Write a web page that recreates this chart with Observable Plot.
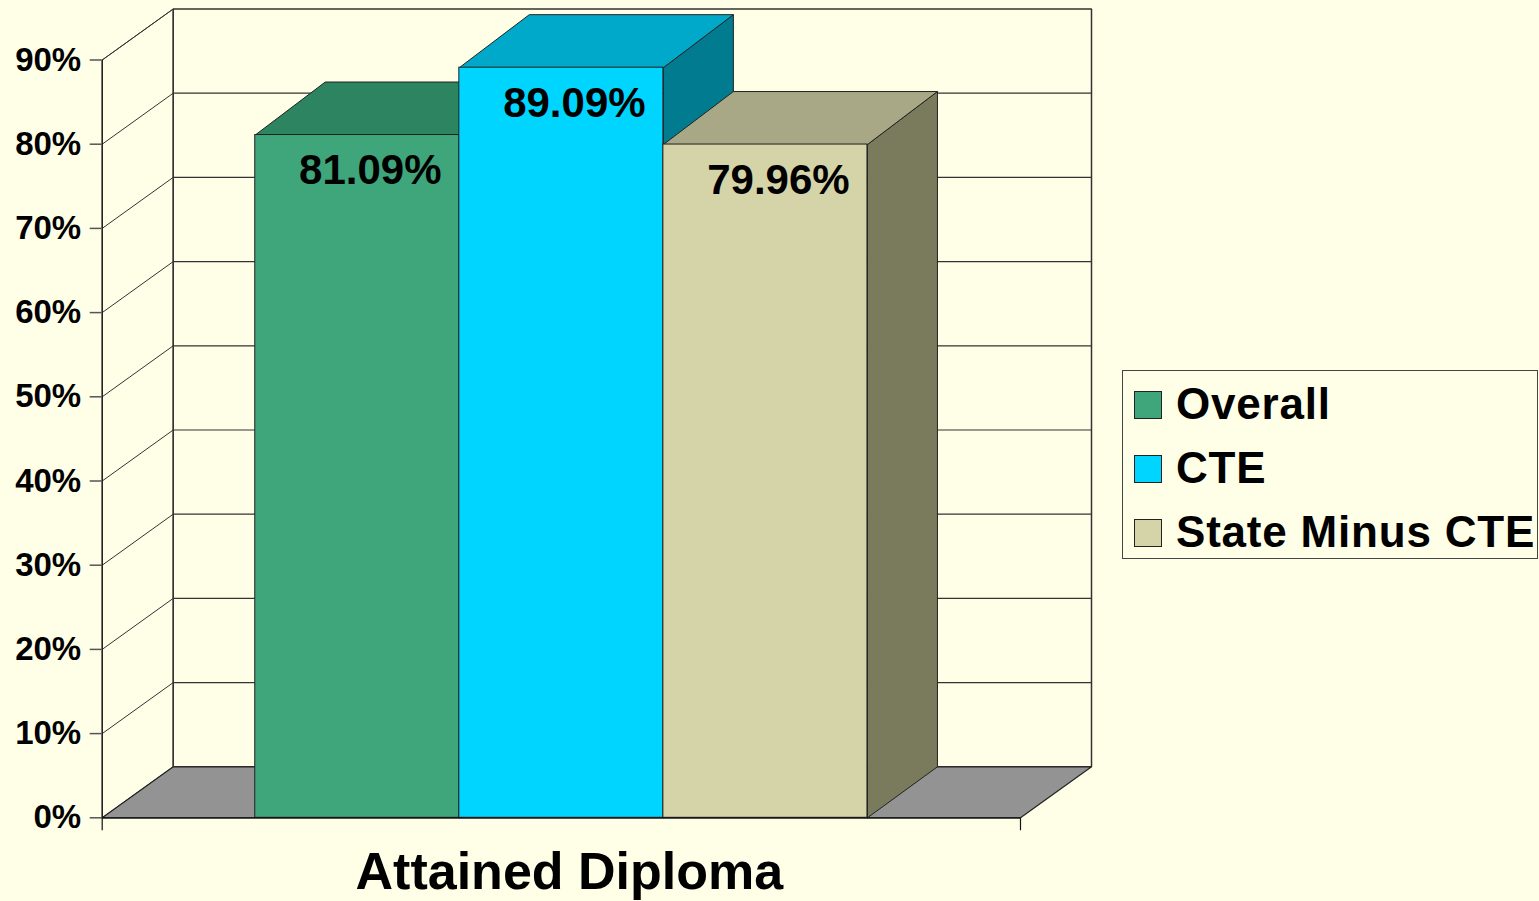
<!DOCTYPE html>
<html><head><meta charset="utf-8">
<script src="https://cdn.jsdelivr.net/npm/d3@7"></script>
<script src="https://cdn.jsdelivr.net/npm/@observablehq/plot@0.6"></script>
<style>
html,body{margin:0;padding:0;background:#FFFFE8;}
#wrap{position:relative;width:1539px;height:901px;font-family:"Liberation Sans",Arial,sans-serif;overflow:hidden;}
#legend{position:absolute;left:1122px;top:370px;width:416px;height:189px;border:1.5px solid #444;box-sizing:border-box;background:#FFFFE8;}
.item{position:absolute;left:0;height:0;}
.sw{position:absolute;left:11px;width:26px;height:26px;top:-14px;border:1px solid #222;}
.lab{position:absolute;left:53px;top:-27px;font-size:44px;font-weight:bold;letter-spacing:0.8px;line-height:52px;white-space:nowrap;color:#000;}
</style></head><body><div id="wrap"></div>
<script>
// ---- data ----
const categories = ["Attained Diploma"];
const series = ["Overall", "CTE", "State Minus CTE"];
const values = [81.09, 89.09, 79.96];
const valueLabels = ["81.09%", "89.09%", "79.96%"];
const yTicks = [0, 10, 20, 30, 40, 50, 60, 70, 80, 90];
const frontColors = ["#3FA67B", "#00D5FF", "#D5D3A8"];
const topColors = ["#2D8460", "#00A9C9", "#A8A886"];
const sideColors = ["#1F5E44", "#007B8F", "#7A7A5D"];

// ---- layout ----
const W = 1539, H = 901;
const mL = 101.7, mR = W - 1020, mT = 59.5, mB = H - 817.3;
const X_MAX = 4.5, Y_MAX = 90;
const xUnit = (W - mR - mL) / X_MAX;      // px per x unit
const yUnit = (H - mB - mT) / Y_MAX;      // px per percent
const wdx = 71 / xUnit, wdy = 51 / yUnit; // wall depth
const bdx = 70 / xUnit, bdy = 53 / yUnit; // bar depth
const barStart = 0.75, barW = 1;
const bg = "#FFFFE8";
const edge = "#333";

const poly = (pts, fill, stroke = "#222", sw = 1) =>
  Plot.line(pts, {x: d => d[0], y: d => d[1], fill, stroke, strokeWidth: sw, strokeLinejoin: "miter", curve: "linear"});

const bars = values.map((v, i) => ({v, i, x0: barStart + i * barW, x1: barStart + (i + 1) * barW}));

const marks = [];
// back wall
marks.push(poly([[wdx, wdy], [X_MAX + wdx, wdy], [X_MAX + wdx, Y_MAX + wdy], [wdx, Y_MAX + wdy], [wdx, wdy]], bg, edge, 1.5));
marks.push(Plot.ruleY(yTicks.slice(1, -1), {y: d => d + wdy, x1: () => wdx, x2: () => X_MAX + wdx, stroke: edge, strokeWidth: 1.2}));
// left wall
marks.push(poly([[0, 0], [wdx, wdy], [wdx, Y_MAX + wdy], [0, Y_MAX], [0, 0]], bg, edge, 1));
marks.push(Plot.link(yTicks.slice(1), {x1: () => 0, y1: d => d, x2: () => wdx, y2: d => d + wdy, stroke: edge, strokeWidth: 1}));
// floor
marks.push(poly([[0, 0], [X_MAX, 0], [X_MAX + wdx, wdy], [wdx, wdy], [0, 0]], "#939393", "#222", 1.2));
marks.push(Plot.link([0], {x1: () => wdx, y1: () => wdy, x2: () => wdx, y2: () => Y_MAX + wdy, stroke: edge, strokeWidth: 1.5}));
// bars
for (const b of bars) {
  marks.push(poly([[b.x1, 0], [b.x1 + bdx, wdy], [b.x1 + bdx, b.v + bdy], [b.x1, b.v], [b.x1, 0]], sideColors[b.i]));
  marks.push(poly([[b.x0, b.v], [b.x1, b.v], [b.x1 + bdx, b.v + bdy], [b.x0 + bdx, b.v + bdy], [b.x0, b.v]], topColors[b.i]));
  marks.push(Plot.rect([b], {x1: "x0", x2: "x1", y1: () => 0, y2: "v", fill: frontColors[b.i], stroke: "#222", strokeWidth: 1}));
}
// front axis line
marks.push(Plot.ruleX([0], {y1: () => 0, y2: () => Y_MAX, stroke: "#111", strokeWidth: 1.2}));
marks.push(Plot.ruleY([0], {x1: () => 0, x2: () => X_MAX, stroke: "#111", strokeWidth: 1.2}));
// x boundary ticks
marks.push(Plot.ruleX([0, X_MAX], {x: d => d, y1: () => 0, y2: () => -13 / yUnit, stroke: "#111", strokeWidth: 1.2}));
// y axis
marks.push(Plot.axisY(yTicks, {tickSize: 12, tickPadding: 9, fontSize: 33, fontWeight: "bold", tickFormat: d => d + "%", stroke: "#555", strokeWidth: 1.5, fill: "#000", label: null}));
// value labels
marks.push(Plot.text(bars, {x: d => d.x0 + barW / 2, y: "v", text: d => valueLabels[d.i], dx: 13, dy: 36, lineAnchor: "middle", textAnchor: "middle", fontSize: 42, fontWeight: "bold", fill: "#000"}));
// category label
marks.push(Plot.text(categories, {x: () => X_MAX / 2, y: () => 0, text: d => d, dx: 8, dy: 55, lineAnchor: "middle", textAnchor: "middle", fontSize: 52, fontWeight: "bold", fill: "#000", style: "letter-spacing:0.5px"}));

const chart = Plot.plot({
  width: W, height: H,
  marginLeft: mL, marginRight: mR, marginTop: mT, marginBottom: mB,
  x: {domain: [0, X_MAX], axis: null},
  y: {domain: [0, Y_MAX], axis: null},
  style: {background: "transparent", fontFamily: "'Liberation Sans', Arial, sans-serif", overflow: "visible"},
  marks
});
chart.style.position = "absolute";
chart.style.left = "0"; chart.style.top = "0";
const wrap = document.getElementById("wrap");
wrap.appendChild(chart);

// legend
const leg = document.createElement("div");
leg.id = "legend";
const rowCenters = [33.5, 98, 161.5];
series.forEach((s, i) => {
  const it = document.createElement("div");
  it.className = "item";
  it.style.top = rowCenters[i] + "px";
  const sw = document.createElement("div");
  sw.className = "sw"; sw.style.background = frontColors[i];
  const lb = document.createElement("div");
  lb.className = "lab"; lb.textContent = s;
  it.appendChild(sw); it.appendChild(lb);
  leg.appendChild(it);
});
wrap.appendChild(leg);
</script>
</body></html>
